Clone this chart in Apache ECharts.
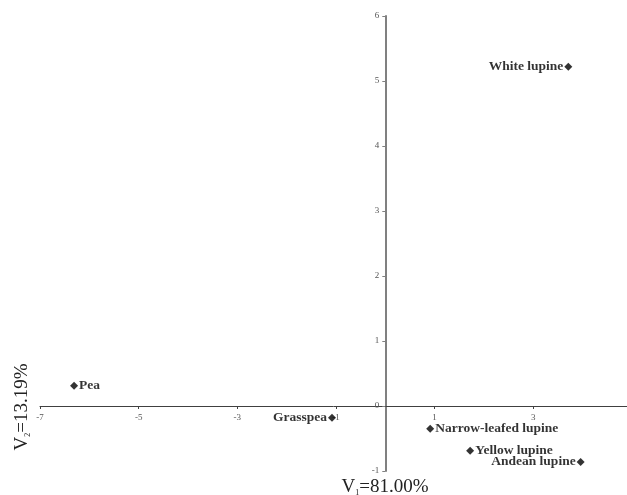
<!DOCTYPE html>
<html>
<head>
<meta charset="utf-8">
<script src="https://cdn.jsdelivr.net/npm/echarts@6/dist/echarts.min.js"></script>
<style>html,body{margin:0;padding:0;background:#fff}#c{width:627px;height:495px}</style>
</head>
<body>
<div id="c"></div>
<script>
var names = ['White lupine', 'Pea', 'Grasspea', 'Narrow-leafed lupine', 'Yellow lupine', 'Andean lupine'];
var v1 = [3.71, -6.31, -1.08, 0.91, 1.72, 3.96];
var v2 = [5.22, 0.31, -0.18, -0.35, -0.69, -0.86];
var labelSide = ['left', 'right', 'left', 'right', 'right', 'left'];

var serif = '"Liberation Serif", "Times New Roman", serif';
var W = 627, H = 495;
var G = { left: 40, right: 0, top: 16, bottom: 24 };
var xMin = -7, xMax = 4.9, yMin = -1, yMax = 6;
// shift the axes (with their labels) to cross at the origin
var xOff = -(0 - xMin) / (xMax - xMin) * (W - G.left - G.right);
var yOff = -(0 - yMin) / (yMax - yMin) * (H - G.top - G.bottom);

var chart = echarts.init(document.getElementById('c'));
var data = names.map(function (n, i) {
  return { name: n, value: [v1[i], v2[i]], label: { position: labelSide[i] } };
});
chart.setOption({
  animation: false,
  grid: G,
  xAxis: {
    type: 'value', min: xMin, max: xMax, interval: 2,
    position: 'bottom', offset: yOff,
    axisLine: { onZero: false, lineStyle: { color: '#404040', width: 1 } },
    axisTick: { show: true, length: 3, lineStyle: { color: '#404040' } },
    axisLabel: { showMaxLabel: false, fontFamily: serif, fontSize: 9, color: '#555', margin: 7 },
    splitLine: { show: false }
  },
  yAxis: {
    type: 'value', min: yMin, max: yMax, interval: 1,
    position: 'left', offset: xOff,
    axisLine: { onZero: false, lineStyle: { color: '#808080', width: 2 } },
    axisTick: { show: true, length: 3, lineStyle: { color: '#808080' } },
    axisLabel: { fontFamily: serif, fontSize: 9, color: '#555', margin: 6 },
    splitLine: { show: false }
  },
  series: [{
    type: 'scatter',
    symbol: 'diamond',
    symbolSize: 8,
    itemStyle: { color: '#000' },
    data: data,
    label: {
      show: true,
      formatter: '{b}',
      fontFamily: serif,
      fontWeight: 'bold',
      fontSize: 13.5,
      color: '#000',
      distance: 1
    }
  }],
  graphic: [
    {
      type: 'text', x: 385, y: 487,
      style: {
        text: '{a|V}{s|1}{a|=81.00%}',
        align: 'center', verticalAlign: 'middle',
        rich: {
          a: { fontFamily: serif, fontSize: 19, fill: '#222', color: '#222' },
          s: { fontFamily: serif, fontSize: 8, fill: '#222', color: '#222', verticalAlign: 'bottom', padding: [10, 0, 0, 0] }
        }
      }
    },
    {
      type: 'text', x: 22, y: 407, rotation: Math.PI / 2,
      style: {
        text: '{a|V}{s|2}{a|=13.19%}',
        align: 'center', verticalAlign: 'middle',
        rich: {
          a: { fontFamily: serif, fontSize: 19, fill: '#222', color: '#222' },
          s: { fontFamily: serif, fontSize: 8, fill: '#222', color: '#222', verticalAlign: 'bottom', padding: [10, 0, 0, 0] }
        }
      }
    }
  ]
});
</script>
</body>
</html>
